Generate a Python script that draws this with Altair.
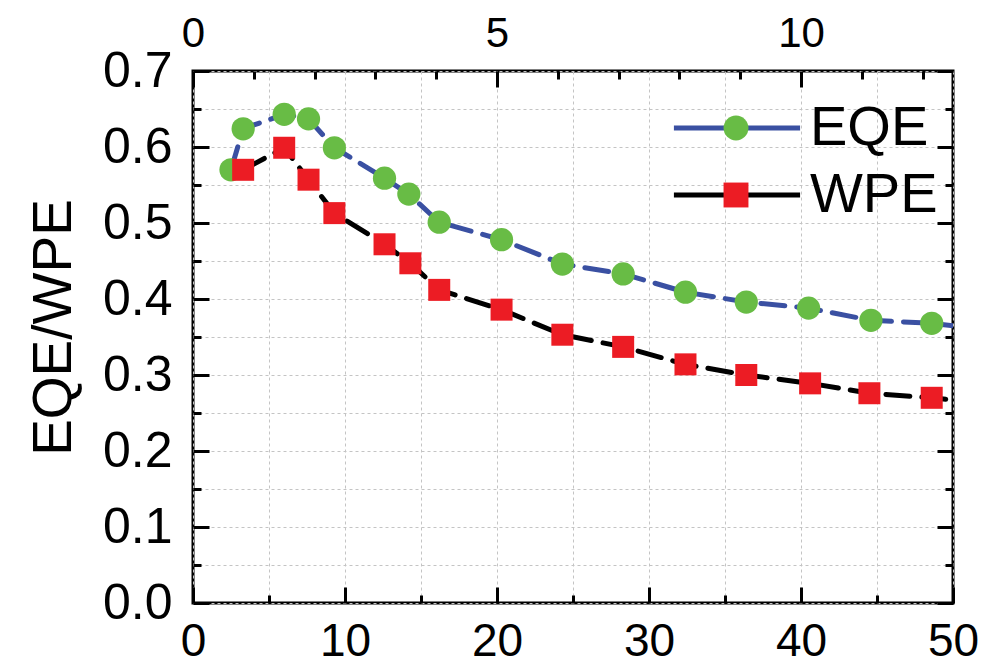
import altair as alt
import pandas as pd

FONT = "Liberation Sans"

series_names = ["EQE", "WPE"]
eqe_x = [2.5, 3.3, 6.0, 7.6, 9.3, 12.6, 14.2, 16.2, 20.3, 24.3, 28.3, 32.4, 36.4, 40.5, 44.6, 48.6, 52.6]
eqe_y = [0.570, 0.624, 0.643, 0.637, 0.599, 0.559, 0.538, 0.501, 0.478, 0.446, 0.433, 0.409, 0.396, 0.388, 0.372, 0.368, 0.359]
wpe_x = [3.3, 6.0, 7.6, 9.3, 12.6, 14.3, 16.2, 20.3, 24.3, 28.3, 32.4, 36.4, 40.6, 44.5, 48.6, 52.6]
wpe_y = [0.570, 0.599, 0.557, 0.513, 0.472, 0.447, 0.412, 0.386, 0.353, 0.337, 0.314, 0.300, 0.289, 0.276, 0.270, 0.262]

x_ticks_bottom = list(range(0, 51, 5))
x_ticks_top = list(range(0, 49, 4))
y_ticks = [round(i * 0.05, 2) for i in range(15)]

line_colors = ["#3a50a2", "#000000"]
marker_colors = ["#68bc45", "#ec1c24"]
marker_shapes = ["circle", "square"]

df = pd.concat([
    pd.DataFrame({"x": eqe_x, "y": eqe_y, "series": "EQE", "name": "EQE"}),
    pd.DataFrame({"x": wpe_x, "y": wpe_y, "series": "WPE", "name": "WPE"}),
], ignore_index=True)

x_scale = alt.Scale(domain=[0, 50], nice=False, zero=False)
y_scale = alt.Scale(domain=[0, 0.7], nice=False)

major_solid = [20, 0]
minor_dash = [0, 8, 8, 0]

axis_common = dict(
    offset=-16, tickSize=16, tickWidth=3, tickColor="black", domain=False,
    labelFont=FONT, labelColor="black",
    labelFlush=False, labelOverlap=False,
)

bottom_axis = alt.Axis(
    orient="bottom", values=x_ticks_bottom,
    labelExpr="datum.value % 10 === 0 ? datum.label : ''",
    tickDash={"condition": {"test": "datum.value % 10 === 0", "value": major_solid}, "value": minor_dash},
    grid=True, gridDash=[3, 3], gridColor="#c4c4c4", gridWidth=1,
    labelFontSize=46, labelPadding=16, title=None, **axis_common,
)
top_axis = alt.Axis(
    orient="top", values=x_ticks_top,
    labelExpr="datum.value % 20 === 0 ? format(datum.value / 4, 'd') : ''",
    tickDash={"condition": {"test": "datum.value % 20 === 0", "value": major_solid}, "value": minor_dash},
    grid=False, labelFontSize=42, labelPadding=16, title=None, **axis_common,
)
left_axis = alt.Axis(
    orient="left", values=y_ticks,
    labelExpr="round(datum.value * 100) % 10 === 0 ? format(datum.value, '.1f') : ''",
    tickDash={"condition": {"test": "round(datum.value * 100) % 10 === 0", "value": major_solid}, "value": minor_dash},
    grid=True, gridDash=[3, 3], gridColor="#c4c4c4", gridWidth=1,
    labelFontSize=50, labelPadding=21, title="EQE/WPE", titleFont=FONT, titleFontSize=55,
    titleFontWeight="normal", titleColor="black", titlePadding=20, titleY=256,
    **axis_common,
)
right_axis = alt.Axis(
    orient="right", values=y_ticks, labels=False,
    tickDash={"condition": {"test": "round(datum.value * 100) % 10 === 0", "value": major_solid}, "value": minor_dash},
    grid=False, title=None, **axis_common,
)

line_legend = alt.Legend(
    title=None, orient="none", legendX=516, legendY=29, padding=0,
    symbolType="M-5.7,0H5.7", symbolSize=490, symbolStrokeWidth=5, symbolDash=[300, 0],
    labelFont=FONT, labelFontSize=56, labelColor="black", labelOffset=45, rowPadding=11,
)
marker_legend = alt.Legend(
    title=None, orient="none", legendX=515, legendY=29, padding=0,
    symbolSize=620, symbolStrokeWidth=0, symbolOpacity=1,
    labelFont=FONT, labelFontSize=56, labelOpacity=0, labelOffset=45, rowPadding=11,
)

color_enc = alt.Color("series:N", scale=alt.Scale(domain=series_names, range=line_colors), legend=line_legend)
fill_enc = alt.Fill("name:N", scale=alt.Scale(range=marker_colors), legend=marker_legend)
shape_enc = alt.Shape("name:N", scale=alt.Scale(range=marker_shapes), legend=marker_legend)

base = alt.Chart(df)

def line_layer(name, xaxis, yaxis):
    return base.transform_filter(alt.datum.series == name).mark_line(
        strokeWidth=5, strokeDash=[24, 12], strokeCap="round", clip=True
    ).encode(
        x=alt.X("x:Q", scale=x_scale, axis=xaxis),
        y=alt.Y("y:Q", scale=y_scale, axis=yaxis),
        color=color_enc,
    )

def point_layer(name, size):
    return base.transform_filter(alt.datum.series == name).mark_point(
        filled=True, size=size, opacity=1, strokeWidth=0, clip=True
    ).encode(
        x=alt.X("x:Q", scale=x_scale, axis=None),
        y=alt.Y("y:Q", scale=y_scale, axis=None),
        fill=fill_enc,
        shape=shape_enc,
    )

chart = alt.layer(
    line_layer("EQE", bottom_axis, left_axis),
    point_layer("EQE", 540),
    line_layer("WPE", top_axis, right_axis),
    point_layer("WPE", 484),
).resolve_axis(x="independent", y="independent").properties(
    width=760, height=532,
    padding={"left": 185, "top": 63, "right": 39, "bottom": 63},
    autosize=alt.AutoSizeParams(type="none"),
    background="white",
).configure_view(stroke="black", strokeWidth=3)

chart.save("out.html", embed_options={"renderer": "svg", "actions": False})
